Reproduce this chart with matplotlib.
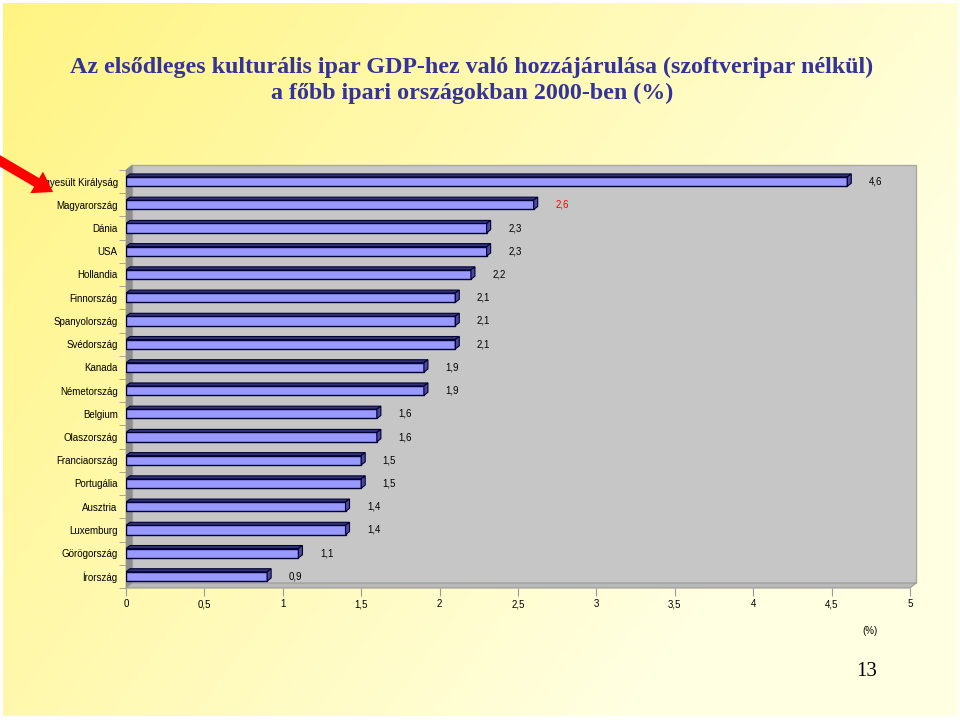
import numpy as np
import matplotlib
matplotlib.use('Agg')
import matplotlib.pyplot as plt
from matplotlib.patches import Polygon, Rectangle, FancyArrow
from matplotlib.ticker import FuncFormatter

countries = ['Egyesült Királyság', 'Magyarország', 'Dánia', 'USA', 'Hollandia',
             'Finnország', 'Spanyolország', 'Svédország', 'Kanada', 'Németország',
             'Belgium', 'Olaszország', 'Franciaország', 'Portugália', 'Ausztria',
             'Luxemburg', 'Görögország', 'Írország']
values = [4.6, 2.6, 2.3, 2.3, 2.2, 2.1, 2.1, 2.1, 1.9, 1.9,
          1.6, 1.6, 1.5, 1.5, 1.4, 1.4, 1.1, 0.9]
highlight = 'Magyarország'
xticks = [0, 0.5, 1, 1.5, 2, 2.5, 3, 3.5, 4, 4.5, 5]

title = ('Az elsődleges kulturális ipar GDP-hez való hozzájárulása (szoftveripar nélkül)\n'
         'a főbb ipari országokban 2000-ben (%)')

W, H = 960, 720
fig = plt.figure(figsize=(9.6, 7.2), dpi=100, facecolor='white')

# background gradient (yellow -> pale cream)
bg = fig.add_axes([3 / W, 4 / H, 954 / W, 713 / H])
gx, gy = np.meshgrid(np.linspace(0, 1, 240), np.linspace(0, 1, 180))
t = np.clip(0.85 * gx + 0.45 * gy, 0, 1)
c0 = np.array([255, 244, 130]) / 255
c1 = np.array([255, 255, 225]) / 255
img = c0[None, None, :] * (1 - t[..., None]) + c1[None, None, :] * t[..., None]
bg.imshow(img, aspect='auto', extent=[0, 1, 1, 0])
bg.axis('off')

# chart axes = front plane of the 3D plot
ax = fig.add_axes([126 / W, 1 - 588 / H, 784 / W, 418 / H])
ax.set_facecolor('none')
n = len(countries)
ax.set_xlim(0, 5)
ax.set_ylim(n - 0.5, -0.5)
for s in ax.spines.values():
    s.set_visible(False)

pxx = 784 / 5.0      # pixels per x unit
pxy = 418 / n        # pixels per row
ddx, ddy = 6 / pxx, 5 / pxy   # wall depth
ymin, ymax = -0.5, n - 0.5

# back wall, side wall, floor
ax.add_patch(Polygon([(ddx, ymin - ddy), (5 + ddx, ymin - ddy), (5 + ddx, ymax - ddy), (ddx, ymax - ddy)],
                     closed=True, facecolor='#C6C6C6', edgecolor='#A8A8A8', lw=1, clip_on=False, zorder=0))
ax.add_patch(Polygon([(0, ymin), (ddx, ymin - ddy), (ddx, ymax - ddy), (0, ymax)],
                     closed=True, facecolor='#8E8E8E', edgecolor='#8E8E8E', lw=0.5, clip_on=False, zorder=0.5))
ax.add_patch(Polygon([(0, ymax), (ddx, ymax - ddy), (5 + ddx, ymax - ddy), (5, ymax)],
                     closed=True, facecolor='#B9B9B9', edgecolor='#999999', lw=0.8, clip_on=False, zorder=0.5))

# 3D bars
h = 0.4
bdx, bdy = 4 / pxx, 3 / pxy
for i, v in enumerate(values):
    top = i - h / 2
    ax.add_patch(Rectangle((0, top), v, h, facecolor='#9999FF', edgecolor='#000033', lw=1, zorder=3))
    ax.add_patch(Polygon([(0, top), (v, top), (v + bdx, top - bdy), (bdx, top - bdy)],
                         closed=True, facecolor='#333377', edgecolor='#000033', lw=0.8, zorder=3))
    ax.add_patch(Polygon([(v, top), (v + bdx, top - bdy), (v + bdx, top + h - bdy), (v, top + h)],
                         closed=True, facecolor='#4A4A99', edgecolor='#000033', lw=0.8, zorder=3))
    lab = f'{v:.1f}'.replace('.', ',')
    ax.text(v + 0.18, i, lab, ha='center', va='center', fontsize=7, family='Liberation Sans',
            color='#FF0000' if countries[i] == highlight else 'black', zorder=4)

ax.set_yticks(range(n))
ax.set_yticklabels(countries, fontsize=7, family='Liberation Sans')
ax.set_yticks(np.arange(-0.5, n, 1), minor=True)
ax.tick_params(axis='y', which='major', length=0, pad=6)
ax.tick_params(axis='y', which='minor', length=5, color='#999999', direction='out')
ax.set_xticks(xticks)
ax.xaxis.set_major_formatter(FuncFormatter(lambda x, p: f'{x:g}'.replace('.', ',')))
ax.tick_params(axis='x', length=6, color='#999999', labelsize=7, pad=2)
for tl in ax.get_xticklabels():
    tl.set_family('Liberation Sans')

# overlay: title, arrow, notes
ov = fig.add_axes([0, 0, 1, 1])
ov.set_xlim(0, W)
ov.set_ylim(H, 0)
ov.axis('off')
ov.set_facecolor('none')
ov.text(472, 80, title, ha='center', va='center', fontsize=17.3, fontweight='bold',
        family='Liberation Serif', color='#333399', linespacing=1.29)
ov.add_patch(FancyArrow(-5, 158, 58, 34, width=10, head_width=25, head_length=19,
                        length_includes_head=True, facecolor='#FF0000', edgecolor='none', zorder=5))
ov.text(870, 631, '(%)', ha='center', va='center', fontsize=7, family='Liberation Sans')
ov.text(867, 672, '13', ha='center', va='center', fontsize=15, family='Liberation Serif')

fig.savefig('out.png', dpi=100, facecolor='white')
